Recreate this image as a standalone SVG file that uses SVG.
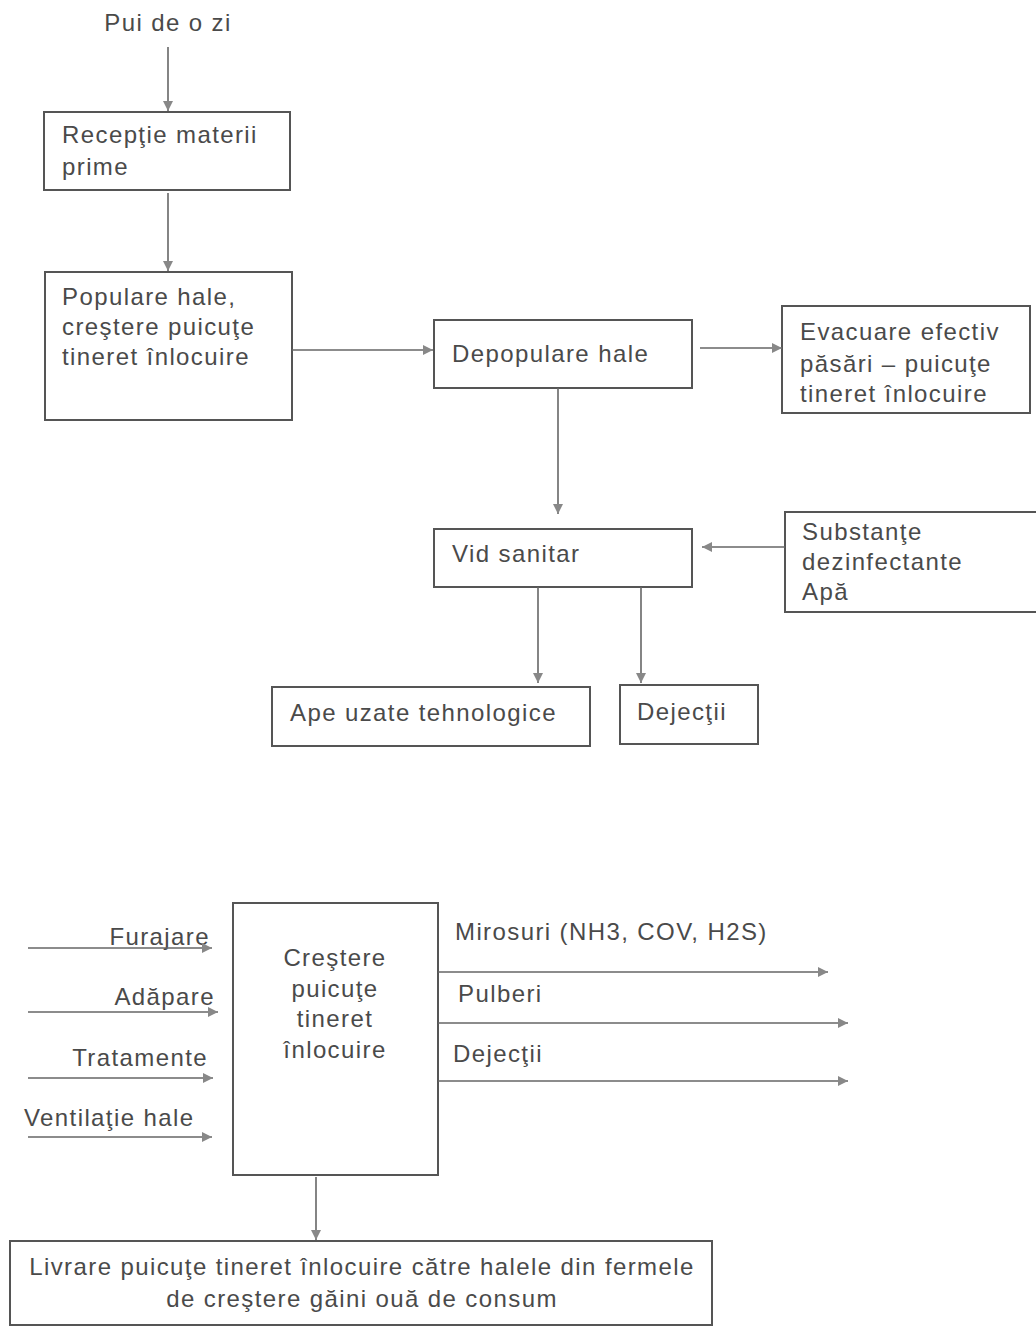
<svg xmlns="http://www.w3.org/2000/svg" width="1036" height="1327" viewBox="0 0 1036 1327">
<style>
text{font-family:"Liberation Sans",Arial,sans-serif;font-size:24px;fill:#4a4a4a;letter-spacing:1.4px}
.b{fill:none;stroke:#555;stroke-width:2}
.c line{stroke:#666;stroke-width:1.6}
.m{text-anchor:middle}
.e{text-anchor:end}
</style>
<defs>
<marker id="a" viewBox="0 0 10 10" refX="10" refY="5" markerWidth="11" markerHeight="10" markerUnits="userSpaceOnUse" orient="auto">
<path d="M0,0 L10,5 L0,10 z" fill="#888"/>
</marker>
</defs>
<rect width="1036" height="1327" fill="#fff"/>
<g id="pui"><text x="168" y="31" class="m">Pui de o zi</text></g>
<g id="receptie"><rect class="b" x="44" y="112" width="246" height="78"/><text x="62" y="143">Recepţie materii</text><text x="62" y="175">prime</text></g>
<g id="populare"><rect class="b" x="45" y="272" width="247" height="148"/><text x="62" y="305">Populare hale,</text><text x="62" y="335">creştere puicuţe</text><text x="62" y="365">tineret înlocuire</text></g>
<g id="depopulare"><rect class="b" x="434" y="320" width="258" height="68"/><text x="452" y="362">Depopulare hale</text></g>
<g id="evacuare"><rect class="b" x="782" y="306" width="248" height="107"/><text x="800" y="340">Evacuare efectiv</text><text x="800" y="372">păsări – puicuţe</text><text x="800" y="402">tineret înlocuire</text></g>
<g id="vid"><rect class="b" x="434" y="529" width="258" height="58"/><text x="452" y="562">Vid sanitar</text></g>
<g id="substante"><rect class="b" x="785" y="512" width="260" height="100"/><text x="802" y="540">Substanţe</text><text x="802" y="570">dezinfectante</text><text x="802" y="600">Apă</text></g>
<g id="ape"><rect class="b" x="272" y="687" width="318" height="59"/><text x="290" y="721">Ape uzate tehnologice</text></g>
<g id="dejectii1"><rect class="b" x="620" y="685" width="138" height="59"/><text x="637" y="720">Dejecţii</text></g>
<g id="crestere"><rect class="b" x="233" y="903" width="205" height="272"/><text x="335" y="966" class="m">Creştere</text><text x="335" y="997" class="m">puicuţe</text><text x="335" y="1027" class="m">tineret</text><text x="335" y="1058" class="m">înlocuire</text></g>
<g id="livrare"><rect class="b" x="10" y="1241" width="702" height="84"/><text x="362" y="1275" class="m">Livrare puicuţe tineret înlocuire către halele din fermele</text><text x="362" y="1307" class="m">de creştere găini ouă de consum</text></g>
<g id="labels">
<text x="210" y="945" class="e">Furajare</text>
<text x="215" y="1005" class="e">Adăpare</text>
<text x="208" y="1066" class="e">Tratamente</text>
<text x="24" y="1126">Ventilaţie hale</text>
<text x="455" y="940">Mirosuri (NH3, COV, H2S)</text>
<text x="458" y="1002">Pulberi</text>
<text x="453" y="1062">Dejecţii</text>
</g>
<g id="connectors" class="c">
<line x1="168" y1="47" x2="168" y2="111" marker-end="url(#a)"/>
<line x1="168" y1="193" x2="168" y2="271" marker-end="url(#a)"/>
<line x1="292" y1="350" x2="433" y2="350" marker-end="url(#a)"/>
<line x1="700" y1="348" x2="782" y2="348" marker-end="url(#a)"/>
<line x1="558" y1="388" x2="558" y2="514" marker-end="url(#a)"/>
<line x1="785" y1="547" x2="702" y2="547" marker-end="url(#a)"/>
<line x1="538" y1="587" x2="538" y2="683" marker-end="url(#a)"/>
<line x1="641" y1="587" x2="641" y2="683" marker-end="url(#a)"/>
<line x1="28" y1="948" x2="212" y2="948" marker-end="url(#a)"/>
<line x1="28" y1="1012" x2="218" y2="1012" marker-end="url(#a)"/>
<line x1="28" y1="1078" x2="213" y2="1078" marker-end="url(#a)"/>
<line x1="28" y1="1137" x2="212" y2="1137" marker-end="url(#a)"/>
<line x1="438" y1="972" x2="828" y2="972" marker-end="url(#a)"/>
<line x1="438" y1="1023" x2="848" y2="1023" marker-end="url(#a)"/>
<line x1="438" y1="1081" x2="848" y2="1081" marker-end="url(#a)"/>
<line x1="316" y1="1177" x2="316" y2="1240" marker-end="url(#a)"/>
</g>
</svg>
